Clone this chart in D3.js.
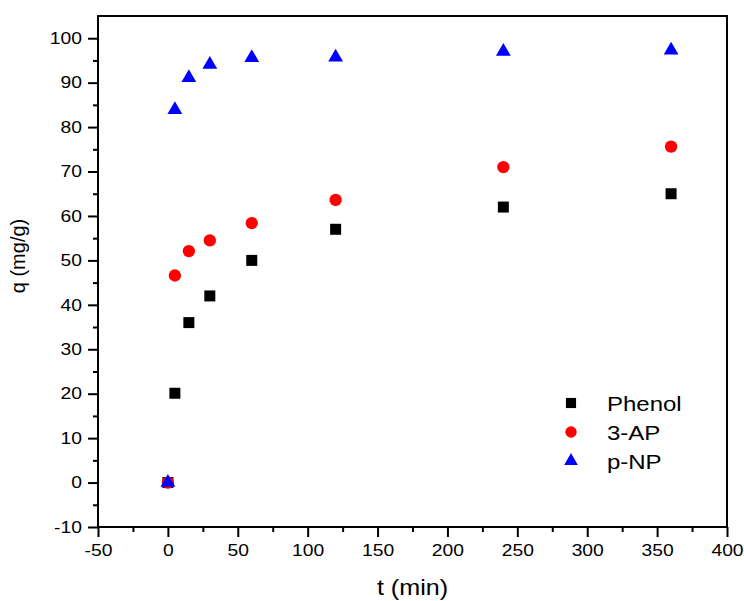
<!DOCTYPE html>
<html>
<head>
<meta charset="utf-8">
<script src="https://cdn.jsdelivr.net/npm/d3@7"></script>
<style>
  body { margin: 0; background: #fff; }
  text { font-family: "Liberation Sans", Arial, sans-serif; }
</style>
</head>
<body>
<svg id="chart" width="744" height="601"></svg>
<script>
// Data
var times = [0, 5, 15, 30, 60, 120, 240, 360];
var phenol = [0, 20.1, 36, 42, 50, 57, 62, 65];
var ap3 = [0, 46.6, 52.1, 54.5, 58.4, 63.6, 71, 75.6];
var pnp = [0, 83.9, 91.1, 94.1, 95.6, 95.7, 97, 97.3];
var seriesNames = ["Phenol", "3-AP", "p-NP"];
var xTicks = [-50, 0, 50, 100, 150, 200, 250, 300, 350, 400];
var yTicks = [-10, 0, 10, 20, 30, 40, 50, 60, 70, 80, 90, 100];

// the original picture is a bit wider than tall, text looks stretched
var SX = 1.17;

var svg = d3.select("#chart");
var margin = { top: 16, right: 17, bottom: 74, left: 98 };
var width = 744 - margin.left - margin.right,
    height = 601 - margin.top - margin.bottom;

var g = svg.append("g")
    .attr("transform", `translate(${margin.left},${margin.top})`);

var x = d3.scaleLinear().domain([-50, 400]).range([0, width]);
var y = d3.scaleLinear().domain([-10, 105]).range([height, 0]);

var fmt = d => String(d); // plain hyphen minus like the original

// axes with major + minor ticks
function minor(ticks) {
    var out = [];
    for (var i = 0; i < ticks.length - 1; i++) out.push((ticks[i] + ticks[i + 1]) / 2);
    return out;
}

var xAxisG = g.append("g").attr("transform", `translate(0,${height})`);
xAxisG.call(d3.axisBottom(x).tickValues(minor(xTicks)).tickSize(5).tickFormat(""));
xAxisG.append("g").attr("class", "major-x")
    .call(d3.axisBottom(x).tickValues(xTicks).tickSize(10).tickPadding(7).tickFormat(fmt));

var yAxisG = g.append("g");
yAxisG.call(d3.axisLeft(y).tickValues(minor(yTicks)).tickSize(5).tickFormat(""));
yAxisG.append("g").attr("class", "major-y")
    .call(d3.axisLeft(y).tickValues(yTicks).tickSize(10).tickPadding(6).tickFormat(fmt));

g.selectAll(".domain").remove();
g.selectAll(".tick line").attr("stroke", "#000").attr("stroke-width", 2);
g.selectAll(".tick text").attr("font-size", 16.5).attr("fill", "#000")
    .attr("font-family", "'Liberation Sans', Arial, sans-serif");
g.selectAll(".major-x .tick text").attr("transform", `scale(${SX},1)`);
g.selectAll(".major-y .tick text")
    .attr("x", -16 / SX)
    .attr("transform", `scale(${SX},1)`);

// frame
g.append("rect")
    .attr("width", width)
    .attr("height", height)
    .attr("fill", "none")
    .attr("stroke", "#000")
    .attr("stroke-width", 2);

// axis labels
svg.append("text")
    .attr("transform", `translate(${margin.left + width / 2},595) scale(${SX},1)`)
    .attr("text-anchor", "middle")
    .attr("font-size", 21.5)
    .text("t (min)");

svg.append("text")
    .attr("transform", "translate(25,256) rotate(-90)")
    .attr("text-anchor", "middle")
    .attr("font-size", 20)
    .text("q (mg/g)");

// markers
var colors = ["#000000", "#ff0000", "#0000ff"];
var symbols = [d3.symbolSquare, d3.symbolCircle, d3.symbolTriangle];
var sizes = [121, 120, 95];
var allSeries = [phenol, ap3, pnp];

allSeries.forEach(function(vals, si) {
    var sym = d3.symbol().type(symbols[si]).size(sizes[si]);
    g.append("g").selectAll("path")
        .data(times.map((t, i) => ({ t: t, v: vals[i] })))
        .join("path")
        .attr("d", sym)
        .attr("transform", d => `translate(${x(d.t)},${y(d.v)})`)
        .attr("fill", colors[si]);
});

// legend
var legend = svg.append("g").attr("transform", "translate(571,403)");
seriesNames.forEach(function(name, i) {
    legend.append("path")
        .attr("d", d3.symbol().type(symbols[i]).size(sizes[i] * 0.85))
        .attr("transform", `translate(0,${i * 29})`)
        .attr("fill", colors[i]);
    legend.append("text")
        .attr("transform", `translate(36,${i * 29 + 7.5}) scale(${SX},1)`)
        .attr("font-size", 20.5)
        .text(name);
});
</script>
</body>
</html>
